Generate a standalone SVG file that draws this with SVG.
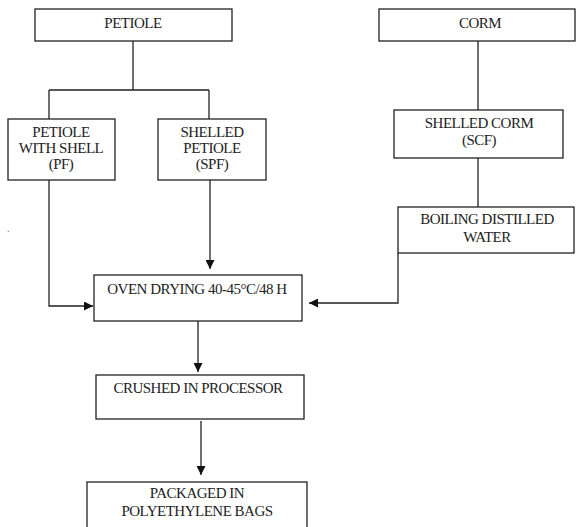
<svg xmlns="http://www.w3.org/2000/svg" width="576" height="527" viewBox="0 0 576 527">
<style>
.box{fill:#fff;stroke:#222;stroke-width:1.3}
.t{font-family:"Liberation Serif","Times New Roman",serif;font-size:15px;fill:#222;text-anchor:middle;letter-spacing:-0.5px}
.c{fill:none;stroke:#222;stroke-width:1.3}
</style>
<defs>
<marker id="ah" viewBox="0 0 10 10" refX="10" refY="5" markerWidth="9" markerHeight="9" markerUnits="userSpaceOnUse" orient="auto">
<path d="M0,0 L10,5 L0,10 z" fill="#111"/>
</marker>
</defs>
<rect width="576" height="527" fill="#fff"/>
<g id="connectors">
<path class="c" d="M133,41 V90 M49,90 H209 M49,90 V119 M209,90 V119"/>
<path class="c" d="M49,180 V306 H93" marker-end="url(#ah)"/>
<path class="c" d="M210,180 V269" marker-end="url(#ah)"/>
<path class="c" d="M478,41 V110"/>
<path class="c" d="M478,158 V207"/>
<path class="c" d="M398,253 V303 H309" marker-end="url(#ah)"/>
<path class="c" d="M198,321 V372" marker-end="url(#ah)"/>
<path class="c" d="M201,421 V475" marker-end="url(#ah)"/>
</g>
<g id="petiole">
<rect class="box" x="35" y="9" width="197" height="32"/>
<text class="t" x="133" y="28">PETIOLE</text>
</g>
<g id="pf">
<rect class="box" x="8" y="119" width="107" height="61"/>
<text class="t" x="61" y="137">PETIOLE</text>
<text class="t" x="61" y="153">WITH SHELL</text>
<text class="t" x="61" y="169">(PF)</text>
</g>
<g id="spf">
<rect class="box" x="158" y="119" width="108" height="61"/>
<text class="t" x="212" y="137">SHELLED</text>
<text class="t" x="212" y="153">PETIOLE</text>
<text class="t" x="212" y="169">(SPF)</text>
</g>
<g id="corm">
<rect class="box" x="379" y="9" width="196" height="32"/>
<text class="t" x="480" y="28">CORM</text>
</g>
<g id="scf">
<rect class="box" x="394" y="110" width="169" height="48"/>
<text class="t" x="479" y="128">SHELLED CORM</text>
<text class="t" x="479" y="145">(SCF)</text>
</g>
<g id="boiling">
<rect class="box" x="398" y="207" width="176" height="46"/>
<text class="t" x="487" y="224">BOILING DISTILLED</text>
<text class="t" x="487" y="242">WATER</text>
</g>
<g id="oven">
<rect class="box" x="94" y="275" width="208" height="46"/>
<text class="t" x="197" y="294">OVEN DRYING 40-45°C/48 H</text>
</g>
<g id="crushed">
<rect class="box" x="96" y="375" width="208" height="44"/>
<text class="t" x="198" y="393">CRUSHED IN PROCESSOR</text>
</g>
<g id="packaged">
<rect class="box" x="87" y="482" width="220" height="60"/>
<text class="t" x="197" y="498">PACKAGED IN</text>
<text class="t" x="197" y="516">POLYETHYLENE BAGS</text>
</g>
<text x="7" y="232" style="font-family:'Liberation Serif',serif;font-size:10px;fill:#666">.</text>
</svg>
